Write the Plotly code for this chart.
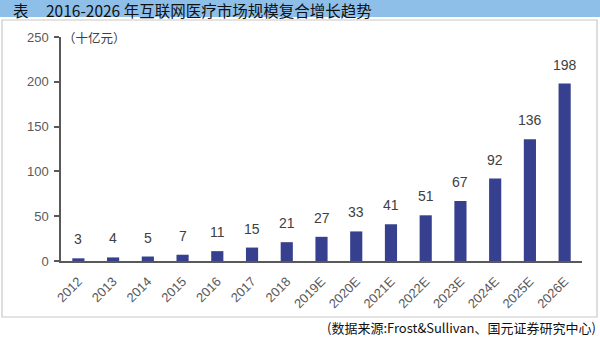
import plotly.graph_objects as go

categories = ["2012", "2013", "2014", "2015", "2016", "2017", "2018", "2019E",
              "2020E", "2021E", "2022E", "2023E", "2024E", "2025E", "2026E"]
values = [3, 4, 5, 7, 11, 15, 21, 27, 33, 41, 51, 67, 92, 136, 198]
y_ticks = [0, 50, 100, 150, 200, 250]

title_mark = "表"
title_text = "2016-2026 年互联网医疗市场规模复合增长趋势"
unit_text = "（十亿元）"
source_text = "(数据来源:Frost&Sullivan、国元证券研究中心)"

L, R, T, B = 61, 18, 37, 76
W, H = 600, 337
pw, ph = W - L - R, H - T - B

def px(X):
    return (X - L) / pw

def py(Y):
    return (H - B - Y) / ph

FONT = "Noto Sans CJK SC, Liberation Sans, Arial, sans-serif"
LAT = "Liberation Sans, Arial, sans-serif"

idx = list(range(len(categories)))

fig = go.Figure()
fig.add_trace(go.Bar(
    x=idx, y=values,
    marker=dict(color="#36408f", line=dict(width=0)),
    width=0.35, hovertext=categories, hoverinfo="text+y",
))

label_annotations = [
    dict(x=i, y=v, xref="x", yref="y", text=str(v), showarrow=False,
         yanchor="bottom", xanchor="center", yshift=9,
         font=dict(size=14, color="#404040", family=LAT))
    for i, v in zip(idx, values)
]

fig.update_layout(
    width=W, height=H,
    margin=dict(l=L, r=R, t=T, b=B),
    paper_bgcolor="white", plot_bgcolor="white",
    showlegend=False,
    font=dict(family=FONT),
    xaxis=dict(
        showgrid=False, showline=True, linecolor="#595959", linewidth=1.5,
        ticks="", tickangle=-45, ticklabelstandoff=6,
        tickmode="array", tickvals=idx, ticktext=categories,
        tickfont=dict(size=13, color="#595959", family=LAT),
        range=[-0.5, len(categories) - 0.5],
    ),
    yaxis=dict(
        range=[0, 250], tickvals=y_ticks, showgrid=False,
        showline=True, linecolor="#595959", linewidth=1.5,
        ticks="outside", ticklen=5, tickcolor="#595959", tickwidth=1.5,
        ticklabelstandoff=3,
        tickfont=dict(size=13, color="#595959", family=LAT),
        zeroline=False,
    ),
    shapes=[
        dict(type="rect", xref="paper", yref="paper",
             x0=px(0), x1=px(600), y0=py(17), y1=py(0),
             fillcolor="#8ebfe8", line=dict(width=0), layer="below"),
        dict(type="rect", xref="paper", yref="paper",
             x0=px(2), x1=px(597), y0=py(317), y1=py(20),
             fillcolor="rgba(0,0,0,0)", line=dict(color="#c8c8c8", width=1.2),
             layer="below"),
    ],
    annotations=label_annotations + [
        dict(text=title_mark, xref="paper", yref="paper",
             x=px(11), y=py(10), xanchor="left", yanchor="middle",
             showarrow=False, font=dict(size=15.5, color="#111111", family=FONT)),
        dict(text=title_text, xref="paper", yref="paper",
             x=px(44), y=py(10), xanchor="left", yanchor="middle",
             showarrow=False, font=dict(size=15.5, color="#111111", family=FONT)),
        dict(text=unit_text, xref="paper", yref="paper",
             x=px(61), y=py(37), xanchor="left", yanchor="middle",
             showarrow=False, font=dict(size=12.5, color="#404040", family=FONT)),
        dict(text=source_text, xref="paper", yref="paper",
             x=px(598), y=py(327), xanchor="right", yanchor="middle",
             showarrow=False, font=dict(size=13, color="#111111", family=FONT)),
    ],
)

fig.write_html("out.html")
